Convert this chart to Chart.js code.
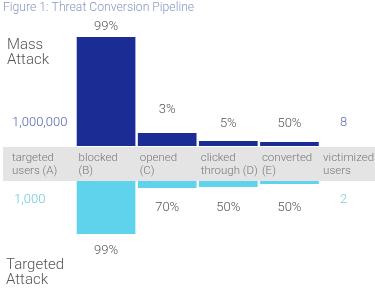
<!DOCTYPE html>
<html>
<head>
<meta charset="utf-8">
<script src="https://cdn.jsdelivr.net/npm/chart.js@4.4.1/dist/chart.umd.min.js"></script>
<style>
  html, body { margin: 0; padding: 0; background: #fff; overflow: hidden; }
  #wrap { position: relative; width: 375px; height: 294px; }
</style>
</head>
<body>
<div id="wrap"><canvas id="pipelineChart"></canvas></div>
<script>
// stages of the pipeline (two-line labels in the grey band)
const stages = [
  ['targeted', 'users (A)'],
  ['blocked', '(B)'],
  ['opened', '(C)'],
  ['clicked', 'through (D)'],
  ['converted', '(E)'],
  ['victimized', 'users']
];

// bar heights as drawn (arbitrary units), first and last stage have no bar
const massHeights = [null, 109, 13, 5, 4, null];
const targetedHeights = [null, 53, 7, 6, 3, null];

// labels
const massPct = ['', '99%', '3%', '5%', '50%', ''];
const targetedPct = ['', '99%', '70%', '50%', '50%', ''];
const massUsers = '1,000,000';
const massVictims = '8';
const targetedUsers = '1,000';
const targetedVictims = '2';

const GAP = 35; // height of grey band between the two bar rows
const FONT = '"Roboto", "Liberation Sans", sans-serif';

const massData = massHeights.map(h => h === null ? null : [GAP, GAP + h]);
const targetedData = targetedHeights.map(h => h === null ? null : [-h, 0]);

// grey band + all text
const pipelinePlugin = {
  id: 'pipeline',
  beforeDatasetsDraw(chart) {
    const ctx = chart.ctx;
    const y = chart.scales.y;
    ctx.save();
    ctx.fillStyle = '#e4e4e4';
    ctx.fillRect(3, y.getPixelForValue(GAP - 1), 372, y.getPixelForValue(0) - y.getPixelForValue(GAP - 1));
    ctx.restore();
  },
  afterDatasetsDraw(chart) {
    const ctx = chart.ctx;
    const x = chart.scales.x;
    const y = chart.scales.y;
    const massMeta = chart.getDatasetMeta(0);
    const tgtMeta = chart.getDatasetMeta(1);
    ctx.save();
    ctx.textBaseline = 'middle';

    // title
    ctx.font = '300 12.2px ' + FONT;
    ctx.fillStyle = '#8797c6';
    ctx.textAlign = 'left';
    ctx.fillText('Figure 1: Threat Conversion Pipeline', 3, 8);

    // row titles
    ctx.font = '300 15px ' + FONT;
    ctx.fillStyle = '#555';
    ctx.fillText('Mass', 7, 45);
    ctx.fillText('Attack', 7, 60);
    ctx.fillText('Targeted', 6, 265);
    ctx.fillText('Attack', 6, 280);

    // band labels
    ctx.font = '300 11.5px ' + FONT;
    ctx.fillStyle = '#777';
    const bandMid = (y.getPixelForValue(GAP - 1) + y.getPixelForValue(0)) / 2;
    stages.forEach((s, i) => {
      const left = i === 0 ? 12 : x.getPixelForValue(i) - 27.5;
      ctx.fillText(s[0], left, bandMid - 6);
      ctx.fillText(s[1], left, bandMid + 7);
    });

    // percentages
    const topOffsets = [0, 10, 23, 17, 18, 0];
    const botOffsets = [0, 17, 20, 21, 24, 0];
    ctx.font = '300 13px ' + FONT;
    ctx.fillStyle = '#555';
    ctx.textAlign = 'center';
    massPct.forEach((p, i) => {
      if (!p) return;
      const bar = massMeta.data[i];
      ctx.fillText(p, bar.x, Math.min(bar.y, bar.base) - topOffsets[i]);
    });
    targetedPct.forEach((p, i) => {
      if (!p) return;
      const bar = tgtMeta.data[i];
      ctx.fillText(p, bar.x, Math.max(bar.y, bar.base) + botOffsets[i]);
    });

    // user counts
    const massRowY = y.getPixelForValue(GAP + 23);
    const tgtRowY = y.getPixelForValue(-19);
    ctx.textAlign = 'left';
    ctx.fillStyle = '#5561b5';
    ctx.fillText(massUsers, 12, massRowY);
    ctx.fillStyle = '#6cc8dd';
    ctx.fillText(targetedUsers, 14, tgtRowY);
    ctx.textAlign = 'center';
    const lastX = x.getPixelForValue(stages.length - 1) - 7;
    ctx.fillStyle = '#6870c0';
    ctx.fillText(massVictims, lastX, massRowY);
    ctx.fillStyle = '#7ccbe0';
    ctx.fillText(targetedVictims, lastX, tgtRowY);

    ctx.restore();
  }
};

const ctx = document.getElementById('pipelineChart').getContext('2d');
new Chart(ctx, {
  type: 'bar',
  data: {
    labels: stages.map(s => s.join(' ')),
    datasets: [{
      label: 'Mass Attack',
      data: massData,
      backgroundColor: '#1b2c95',
      grouped: false,
      borderWidth: 0
    }, {
      label: 'Targeted Attack',
      data: targetedData,
      backgroundColor: '#5fd3ec',
      grouped: false,
      borderWidth: 0
    }]
  },
  options: {
    responsive: true,
    maintainAspectRatio: false,
    animation: false,
    layout: { padding: { left: 75.5, right: 55, top: 0, bottom: 0 } },
    categoryPercentage: 1,
    barPercentage: 0.96,
    scales: {
      x: { type: 'category', min: 1, max: 4, offset: true, display: false },
      y: { type: 'linear', min: -113, max: 181, display: false }
    },
    plugins: {
      legend: { display: false },
      tooltip: { enabled: false }
    }
  },
  plugins: [pipelinePlugin]
});
</script>
</body>
</html>
